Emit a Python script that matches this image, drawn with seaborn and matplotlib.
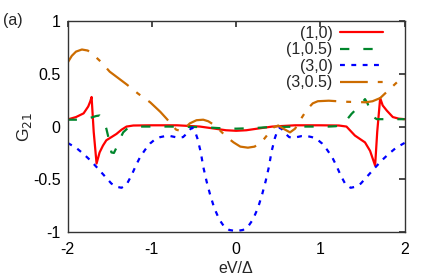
import numpy as np
import pandas as pd
import matplotlib
matplotlib.use('Agg')
import matplotlib.pyplot as plt
import matplotlib.ticker as mticker
import seaborn as sns

# ── Datos ─────────────────────────────────────────────────────
etiquetas = ['(1,0)', '(1,0.5)', '(3,0)', '(3,0.5)']

x_10 = [-2.0, -1.9, -1.81, -1.755, -1.73, -1.715, -1.69, -1.656, -1.62, -1.58, -1.54,
        -1.48, -1.42, -1.36, -1.30, -1.22, -1.0, -0.7, -0.43, -0.25, -0.12, 0.0,
        0.12, 0.25, 0.43, 0.7, 1.0, 1.22, 1.31, 1.41, 1.53, 1.59, 1.65, 1.675, 1.71,
        1.74, 1.79, 1.86, 1.93, 2.0]
y_10 = [0.067, 0.09, 0.125, 0.19, 0.24, 0.28, -0.05, -0.35, -0.245, -0.18, -0.13,
        -0.1, -0.07, -0.03, 0.0, 0.01, 0.012, 0.012, 0.0, -0.02, -0.035, -0.04,
        -0.035, -0.02, 0.0, 0.012, 0.012, 0.01, 0.0, -0.085, -0.15, -0.23, -0.37, -0.05, 0.27,
        0.2, 0.15, 0.09, 0.075, 0.07]

x_105 = [-2.0, -1.9, -1.8, -1.72, -1.66, -1.62, -1.58, -1.54, -1.51, -1.48, -1.45,
         -1.42, -1.38, -1.34, -1.30, -1.26, -1.2, -0.8, -0.4, -0.2, 0.0, 0.2, 0.4,
         0.8, 1.1, 1.18, 1.23, 1.3, 1.37, 1.42, 1.47, 1.53, 1.56, 1.59, 1.63, 1.67,
         1.75, 1.85, 2.0]
y_105 = [0.065, 0.065, 0.07, 0.085, 0.1, 0.105, 0.07, -0.02, -0.12, -0.245, -0.25,
         -0.2, -0.12, -0.055, -0.025, -0.01, 0.0, 0.0, -0.005, -0.015, -0.02, -0.015, -0.005,
         0.0, 0.0, 0.003, 0.01, 0.05, 0.12, 0.16, 0.2, 0.26, 0.22, 0.15, 0.09, 0.07,
         0.07, 0.07, 0.07]

x_30 = [-2.0, -1.9, -1.81, -1.73, -1.66, -1.57, -1.48, -1.42, -1.36, -1.30, -1.24,
        -1.19, -1.14, -1.08, -1.02, -0.96, -0.90, -0.84, -0.78, -0.69, -0.63, -0.59,
        -0.55, -0.52, -0.49, -0.46, -0.42, -0.39, -0.35, -0.31, -0.26, -0.2, -0.14,
        -0.08, 0.0, 0.08, 0.14, 0.2, 0.26, 0.31, 0.35, 0.39, 0.42, 0.46, 0.49, 0.52,
        0.55, 0.59, 0.63, 0.69, 0.78, 0.84, 0.90, 0.96, 1.02, 1.08, 1.14, 1.19, 1.24,
        1.30, 1.36, 1.42, 1.48, 1.57, 1.66, 1.73, 1.81, 1.9, 2.0]
y_30 = [-0.155, -0.2, -0.26, -0.32, -0.38, -0.46, -0.54, -0.57, -0.58, -0.55, -0.46,
        -0.37, -0.29, -0.22, -0.16, -0.12, -0.10, -0.09, -0.09, -0.105, -0.1, -0.07,
        -0.03, -0.01, -0.04, -0.11, -0.24, -0.38, -0.52, -0.64, -0.77, -0.88, -0.95,
        -0.98, -0.99, -0.98, -0.95, -0.88, -0.77, -0.64, -0.52, -0.38, -0.24, -0.11, -0.04, -0.01,
        -0.03, -0.07, -0.1, -0.105, -0.09, -0.09, -0.10, -0.12, -0.16, -0.22, -0.29, -0.37, -0.46,
        -0.55, -0.58, -0.57, -0.54, -0.46, -0.38, -0.32, -0.26, -0.2, -0.155]

x_305 = [-2.0, -1.95, -1.9, -1.83, -1.76, -1.68, -1.6, -1.5, -1.4, -1.3, -1.16,
         -1.02, -0.9, -0.82, -0.76, -0.71, -0.66, -0.6, -0.55, -0.47, -0.39, -0.33,
         -0.27, -0.2, -0.11, -0.03, 0.05, 0.14, 0.22, 0.32, 0.38, 0.44, 0.5, 0.56,
         0.64, 0.7, 0.76, 0.84, 0.91, 0.97, 1.1, 1.3, 1.54, 1.62, 1.71, 1.79, 1.87,
         1.95, 2.0]
y_305 = [0.605, 0.67, 0.71, 0.73, 0.72, 0.67, 0.61, 0.52, 0.46, 0.40, 0.31,
         0.23, 0.14, 0.07, 0.01, -0.03, -0.04, -0.01, 0.03, 0.06, 0.065, 0.05,
         0.02, -0.03, -0.10, -0.15, -0.19, -0.2, -0.19, -0.13, -0.07, -0.01, 0.01, -0.02,
         -0.055, -0.02, 0.06, 0.16, 0.22, 0.24, 0.245, 0.235, 0.23, 0.24, 0.27, 0.33, 0.39,
         0.45, 0.48]

series = [(x_10, y_10), (x_105, y_105), (x_30, y_30), (x_305, y_305)]

# ── Estilo ────────────────────────────────────────────────────
colores = ['#ff0000', '#00862c', '#0000ff', '#cc6c00']
estilos = ['-', (0, (4.2, 6.3)), (0, (2.2, 2.9)), (0, (12.5, 4.5, 2.2, 4.5))]
tam = 11.5

sns.set_theme(style='white')
plt.rcParams.update({
    'font.family': ['Liberation Sans', 'DejaVu Sans'],
    'font.size': tam,
    'axes.edgecolor': '#333333',
    'axes.linewidth': 1.0,
    'xtick.direction': 'in',
    'ytick.direction': 'in',
    'xtick.top': True,
    'ytick.right': True,
    'xtick.major.size': 4,
    'ytick.major.size': 4,
    'xtick.color': '#333333',
    'ytick.color': '#333333',
    'xtick.labelcolor': 'black',
    'ytick.labelcolor': 'black',
})

fig = plt.figure(figsize=(4.36, 2.80), dpi=100)
ax = fig.add_axes([0.155, 0.171, 0.773, 0.754])

for (xs, ys), etiqueta, color, estilo in zip(series, etiquetas, colores, estilos):
    sns.lineplot(x=xs, y=ys, ax=ax, color=color, linestyle=estilo, lw=1.6,
                 label=etiqueta, sort=False, estimator=None, dash_capstyle='butt')

ax.set_xlim(-2, 2)
ax.set_ylim(-1, 1)
ax.set_xticks([-2, -1, 0, 1, 2])
ax.set_yticks([-1, -0.5, 0, 0.5, 1])
ax.xaxis.set_major_formatter(mticker.FuncFormatter(lambda v, _: f"{v:g}"))
ax.yaxis.set_major_formatter(mticker.FuncFormatter(lambda v, _: f"{v:g}"))
ax.tick_params(axis='x', pad=7, labelsize=tam)
ax.tick_params(axis='y', pad=5, labelsize=tam)
ax.set_xlabel('eV/Δ', fontsize=tam, labelpad=3)
ax.set_ylabel('G$_{21}$', fontsize=12.5, labelpad=-1)

ax.legend(loc='upper right', bbox_to_anchor=(0.936, 0.978), frameon=False,
          markerfirst=False, handlelength=2.7, handletextpad=0.45,
          labelspacing=0.1, borderaxespad=0, borderpad=0, fontsize=tam)

fig.text(0.007, 1 - 20 / 280, '(a)', fontsize=tam, va='center', ha='left')

plt.savefig('out.png', dpi=100)
